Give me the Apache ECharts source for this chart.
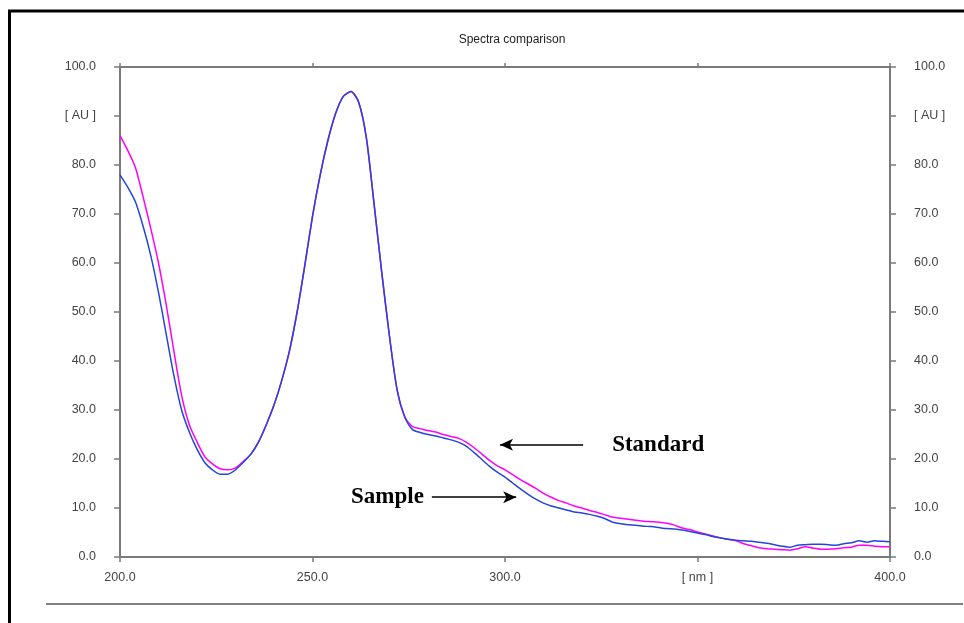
<!DOCTYPE html>
<html>
<head>
<meta charset="utf-8">
<script src="https://cdn.jsdelivr.net/npm/echarts@6/dist/echarts.min.js"></script>
<style>html,body{margin:0;padding:0;background:#fff}#c{width:964px;height:623px}</style>
</head>
<body>
<div id="c"></div>
<script>
const title = 'Spectra comparison';
const wavelengths = [200,202,204,206,208,210,212,214,216,218,220,222,224,226,228,230,232,234,236,238,240,242,244,246,248,250,252,254,256,258,260,262,264,266,268,270,272,274,276,278,280,282,284,286,288,290,292,294,296,298,300,302,304,306,308,310,312,314,316,318,320,322,324,326,328,330,332,334,336,338,340,342,344,346,348,350,352,354,356,358,360,362,364,366,368,370,372,374,376,378,380,382,384,386,388,390,392,394,396,398,400];
const standardValues = [86.0,83.0,79.5,73.5,67.0,60.0,51.5,42.0,33.0,27.0,23.5,20.5,19.0,18.0,17.8,18.2,19.5,21.0,23.5,27.0,31.0,36.0,42.0,50.0,59.5,69.5,78.0,85.0,90.5,94.0,95.0,92.8,85.5,72.0,58.0,45.0,34.0,28.5,26.6,26.2,25.8,25.5,25.0,24.6,24.2,23.4,22.3,21.0,19.7,18.6,17.8,16.8,15.8,14.9,14.0,13.0,12.2,11.5,11.0,10.4,10.0,9.5,9.1,8.6,8.1,7.9,7.7,7.5,7.3,7.2,7.1,6.9,6.5,5.9,5.6,5.1,4.7,4.3,3.9,3.6,3.3,2.7,2.3,1.9,1.7,1.6,1.5,1.4,1.7,2.1,1.8,1.6,1.6,1.7,1.9,2.0,2.4,2.4,2.2,2.1,2.1];
const sampleValues = [78.0,75.5,72.5,67.5,61.5,54.0,45.5,37.0,30.0,25.5,22.0,19.3,17.8,16.9,16.9,17.8,19.3,21.0,23.5,27.0,31.0,36.0,42.0,50.0,59.5,69.5,78.0,85.0,90.5,94.0,95.0,92.8,85.5,72.0,58.0,45.0,34.0,28.5,26.0,25.4,25.0,24.7,24.3,23.9,23.4,22.6,21.3,19.9,18.5,17.3,16.3,15.1,13.9,12.8,11.8,11.0,10.4,10.0,9.6,9.2,9.0,8.7,8.3,7.8,7.1,6.8,6.6,6.5,6.3,6.2,6.0,5.8,5.7,5.5,5.2,4.9,4.6,4.2,3.9,3.6,3.4,3.3,3.2,3.0,2.8,2.5,2.2,2.0,2.4,2.5,2.6,2.6,2.5,2.4,2.7,2.9,3.3,3.0,3.3,3.2,3.1];
const xTickValues = [200,250,300,350,400];
const xTickLabels = ['200.0','250.0','300.0','[ nm ]','400.0'];
const yTickValues = [0,10,20,30,40,50,60,70,80,90,100];
const yTickLabels = ['0.0','10.0','20.0','30.0','40.0','50.0','60.0','70.0','80.0','[ AU ]','100.0'];
const annStandard = {text:'Standard', from:[320.3,22.9], to:[298.7,22.9]};
const annSample = {text:'Sample', from:[281.0,12.2], to:[302.9,12.2]};

const xLab = v => { const i = xTickValues.indexOf(v); return i >= 0 ? xTickLabels[i] : ''; };
const yLab = v => { const i = yTickValues.indexOf(v); return i >= 0 ? yTickLabels[i] : ''; };
const axisGray = '#7a7a7a';
const labStyle = {color:'#444', fontFamily:'Liberation Sans, Arial, sans-serif', fontSize:12.5};

const chart = echarts.init(document.getElementById('c'), null, {renderer:'canvas'});
const yBase = {
  type:'value', min:0, max:100, interval:10,
  axisLine:{show:true, lineStyle:{color:axisGray, width:2}},
  axisTick:{show:true, length:6, lineStyle:{color:axisGray, width:1.5}},
  splitLine:{show:false},
  axisLabel:Object.assign({formatter:yLab, margin:24}, labStyle)
};
chart.setOption({
  animation:false,
  backgroundColor:'#fff',
  title:{text:title, left:507, top:29, textAlign:'center',
    textStyle:{fontSize:12, fontWeight:'normal', color:'#222', fontFamily:'Liberation Sans, Arial, sans-serif'}},
  grid:{left:120, right:74, top:67, bottom:66, containLabel:false},
  xAxis:[
    {type:'value', min:200, max:400, interval:50, position:'bottom',
      axisLine:{show:true, onZero:false, lineStyle:{color:axisGray, width:2}},
      axisTick:{show:true, length:5, lineStyle:{color:axisGray, width:1.5}},
      splitLine:{show:false},
      axisLabel:Object.assign({formatter:xLab, margin:14}, labStyle)},
    {type:'value', min:200, max:400, interval:50, position:'top',
      axisLine:{show:true, onZero:false, lineStyle:{color:axisGray, width:2}},
      axisTick:{show:true, length:4, lineStyle:{color:axisGray, width:1.5}},
      splitLine:{show:false}, axisLabel:{show:false}}
  ],
  yAxis:[
    Object.assign({}, yBase, {position:'left'}),
    Object.assign({}, yBase, {position:'right'})
  ],
  series:[
    {name:'Standard', type:'line', xAxisIndex:0, yAxisIndex:0, showSymbol:false, symbol:'none', smooth:0.25,
      data:wavelengths.map((w,i)=>[w, standardValues[i]]),
      lineStyle:{color:'#ff00ff', width:1.5}, itemStyle:{color:'#ff00ff'},
      markLine:{silent:true, symbol:['none','arrow'], symbolSize:[9,13],
        lineStyle:{color:'#000', width:1.5, type:'solid'},
        label:{show:true, position:'start', distance:29, formatter:p=>p.name,
          color:'#000', fontFamily:'Liberation Serif, Times New Roman, serif', fontWeight:'bold', fontSize:23},
        data:[
          [{name:annStandard.text, coord:annStandard.from}, {coord:annStandard.to}],
          [{name:annSample.text, coord:annSample.from, label:{distance:8}}, {coord:annSample.to}]
        ]}},
    {name:'Sample', type:'line', xAxisIndex:0, yAxisIndex:0, showSymbol:false, symbol:'none', smooth:0.25,
      data:wavelengths.map((w,i)=>[w, sampleValues[i]]),
      lineStyle:{color:'#2346d8', width:1.5}, itemStyle:{color:'#2346d8'}}
  ],
  graphic:[
    {type:'line', shape:{x1:8, y1:11, x2:964, y2:11}, style:{stroke:'#000', lineWidth:3}},
    {type:'line', shape:{x1:9.5, y1:10, x2:9.5, y2:623}, style:{stroke:'#000', lineWidth:3}},
    {type:'line', shape:{x1:46, y1:604, x2:963, y2:604}, style:{stroke:'#808080', lineWidth:2}}
  ]
});
</script>
</body>
</html>
